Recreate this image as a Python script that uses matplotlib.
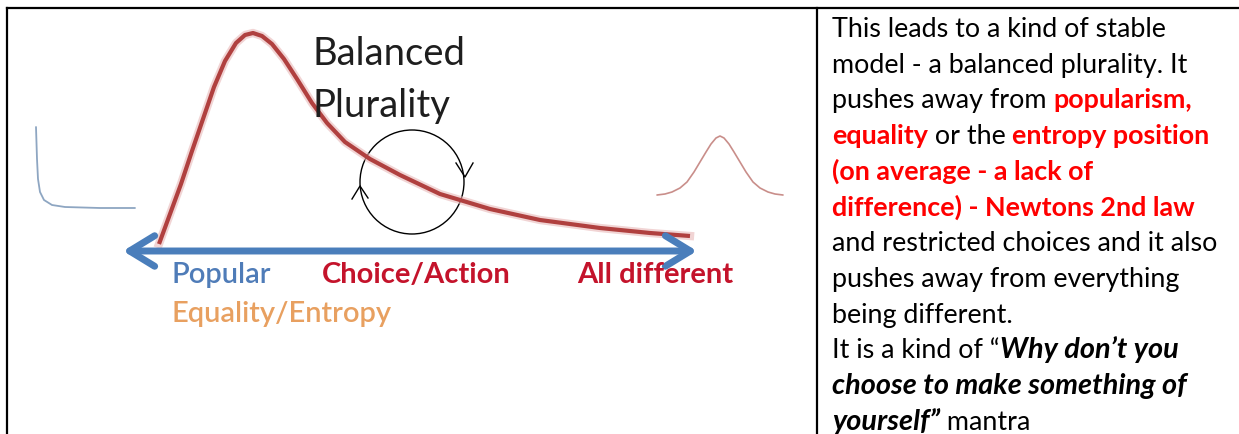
import matplotlib
matplotlib.use("Agg")
import matplotlib.pyplot as plt
from matplotlib.patches import Circle

FONT = "Lato"

# main skewed curve (pixel coords of the picture)
RED_X = [159, 170, 181, 192, 203, 214, 225, 236, 245, 253, 262, 272, 284, 297,
         312, 327, 345, 370, 400, 440, 490, 540, 600, 650, 690]
RED_Y = [245, 215, 185, 152, 120, 88, 62, 44, 36, 34, 37, 45, 60, 80,
         104, 124, 143, 160, 176, 195, 210, 221, 229, 234, 237]

# small "popular" L curve on the left
BLUE_X = [36, 37, 38, 40, 44, 52, 65, 100, 135]
BLUE_Y = [128, 160, 180, 193, 201, 206, 208, 209, 209]

# small bell curve on the right
BELL_X = [657, 665, 672, 680, 687, 694, 700, 706, 711, 716, 720,
          724, 729, 734, 740, 746, 753, 760, 768, 775, 783]
BELL_Y = [196, 195, 193, 189, 183, 173, 163, 153, 145, 139, 137,
          139, 145, 153, 163, 173, 183, 189, 193, 195, 196]

AXIS_LABELS = ["Popular", "Choice/Action", "All different", "Equality/Entropy"]
TITLE_LINES = ["Balanced", "Plurality"]

# right cell: each line is a list of (text, style) runs
LINES = [
    [("This leads to a kind of stable", "n")],
    [("model - a balanced plurality. It", "n")],
    [("pushes away from ", "n"), ("popularism,", "r")],
    [("equality", "r"), (" or the ", "n"), ("entropy position", "r")],
    [("(on average - a lack of", "r")],
    [("difference) - Newtons 2nd law", "r")],
    [("and restricted choices and it also", "n")],
    [("pushes away from everything", "n")],
    [("being different.", "n")],
    [("It is a kind of \u201c", "n"), ("Why don\u2019t you", "bi")],
    [("choose to make something of", "bi")],
    [("yourself\u201d", "bi"), (" mantra", "n")],
]
SIZE = 19.4
STYLES = {
    "n": dict(color="black", fontweight="normal", fontstyle="normal", fontsize=SIZE),
    "r": dict(color="#ff0000", fontweight="bold", fontstyle="normal", fontsize=SIZE),
    "bi": dict(color="black", fontweight="bold", fontstyle="italic",
               fontsize=SIZE * 1.07),
}

fig = plt.figure(figsize=(12.39, 4.35), dpi=100)
ax = fig.add_axes([0, 0, 1, 1])
ax.set_xlim(0, 1239)
ax.set_ylim(435, 0)
ax.axis("off")

# table borders
ax.plot([7, 1239], [9, 9], color="black", lw=1.6)
ax.plot([7, 7], [9, 435], color="black", lw=1.6)
ax.plot([817, 817], [9, 435], color="black", lw=1.6)

# diagram
ax.plot(BLUE_X, BLUE_Y, color="#8ea6c2", lw=1.3, solid_capstyle="round")
ax.plot(BELL_X, BELL_Y, color="#c98e8a", lw=1.2, solid_capstyle="round")
ax.plot(RED_X, RED_Y, color="#e8b8b8", lw=6, alpha=0.6, solid_joinstyle="round")
ax.plot(RED_X, RED_Y, color="#b0403f", lw=3, solid_joinstyle="round",
        solid_capstyle="butt")

ax.add_patch(Circle((412, 183), 52, fill=False, ec="black", lw=1.0))
ax.plot([456, 465, 473], [164, 178, 164], color="black", lw=1.0)
ax.plot([352, 360, 368], [200, 187, 199], color="black", lw=1.0)

ax.annotate("", xy=(697, 252), xytext=(123, 252),
            arrowprops=dict(arrowstyle="<->,head_length=0.9,head_width=0.55",
                            color="#4a7ebb", lw=5, mutation_scale=20,
                            shrinkA=0, shrinkB=0))

ax.text(312, 65, TITLE_LINES[0], fontsize=27.5, family=FONT, color="#1e1e1e",
        va="baseline")
ax.text(313, 117, TITLE_LINES[1], fontsize=27.5, family=FONT, color="#1e1e1e",
        va="baseline")

ax.text(172, 283, AXIS_LABELS[0], fontsize=21, family=FONT, color="#4f7cb8",
        va="baseline", fontweight="semibold")
ax.text(322, 283, AXIS_LABELS[1], fontsize=21, family=FONT, color="#c4132b",
        va="baseline", fontweight="bold")
ax.text(577, 283, AXIS_LABELS[2], fontsize=21, family=FONT, color="#c4132b",
        va="baseline", fontweight="bold")
ax.text(172, 322, AXIS_LABELS[3], fontsize=21, family=FONT, color="#e8a060",
        va="baseline", fontweight="semibold")

# rich text in the right cell
renderer = fig.canvas.get_renderer()


def advance(s, props):
    a = ax.text(0, 0, s + "x", family=FONT, **props)
    b = ax.text(0, 0, "x", family=FONT, **props)
    w = a.get_window_extent(renderer).width - b.get_window_extent(renderer).width
    a.remove()
    b.remove()
    return w


for i, runs in enumerate(LINES):
    x = 832
    y = 37 + i * 35.7
    for text, st in runs:
        props = STYLES[st]
        ax.text(x, y, text, family=FONT, va="baseline", **props)
        x += advance(text, props)

fig.savefig("out.png", dpi=100)
